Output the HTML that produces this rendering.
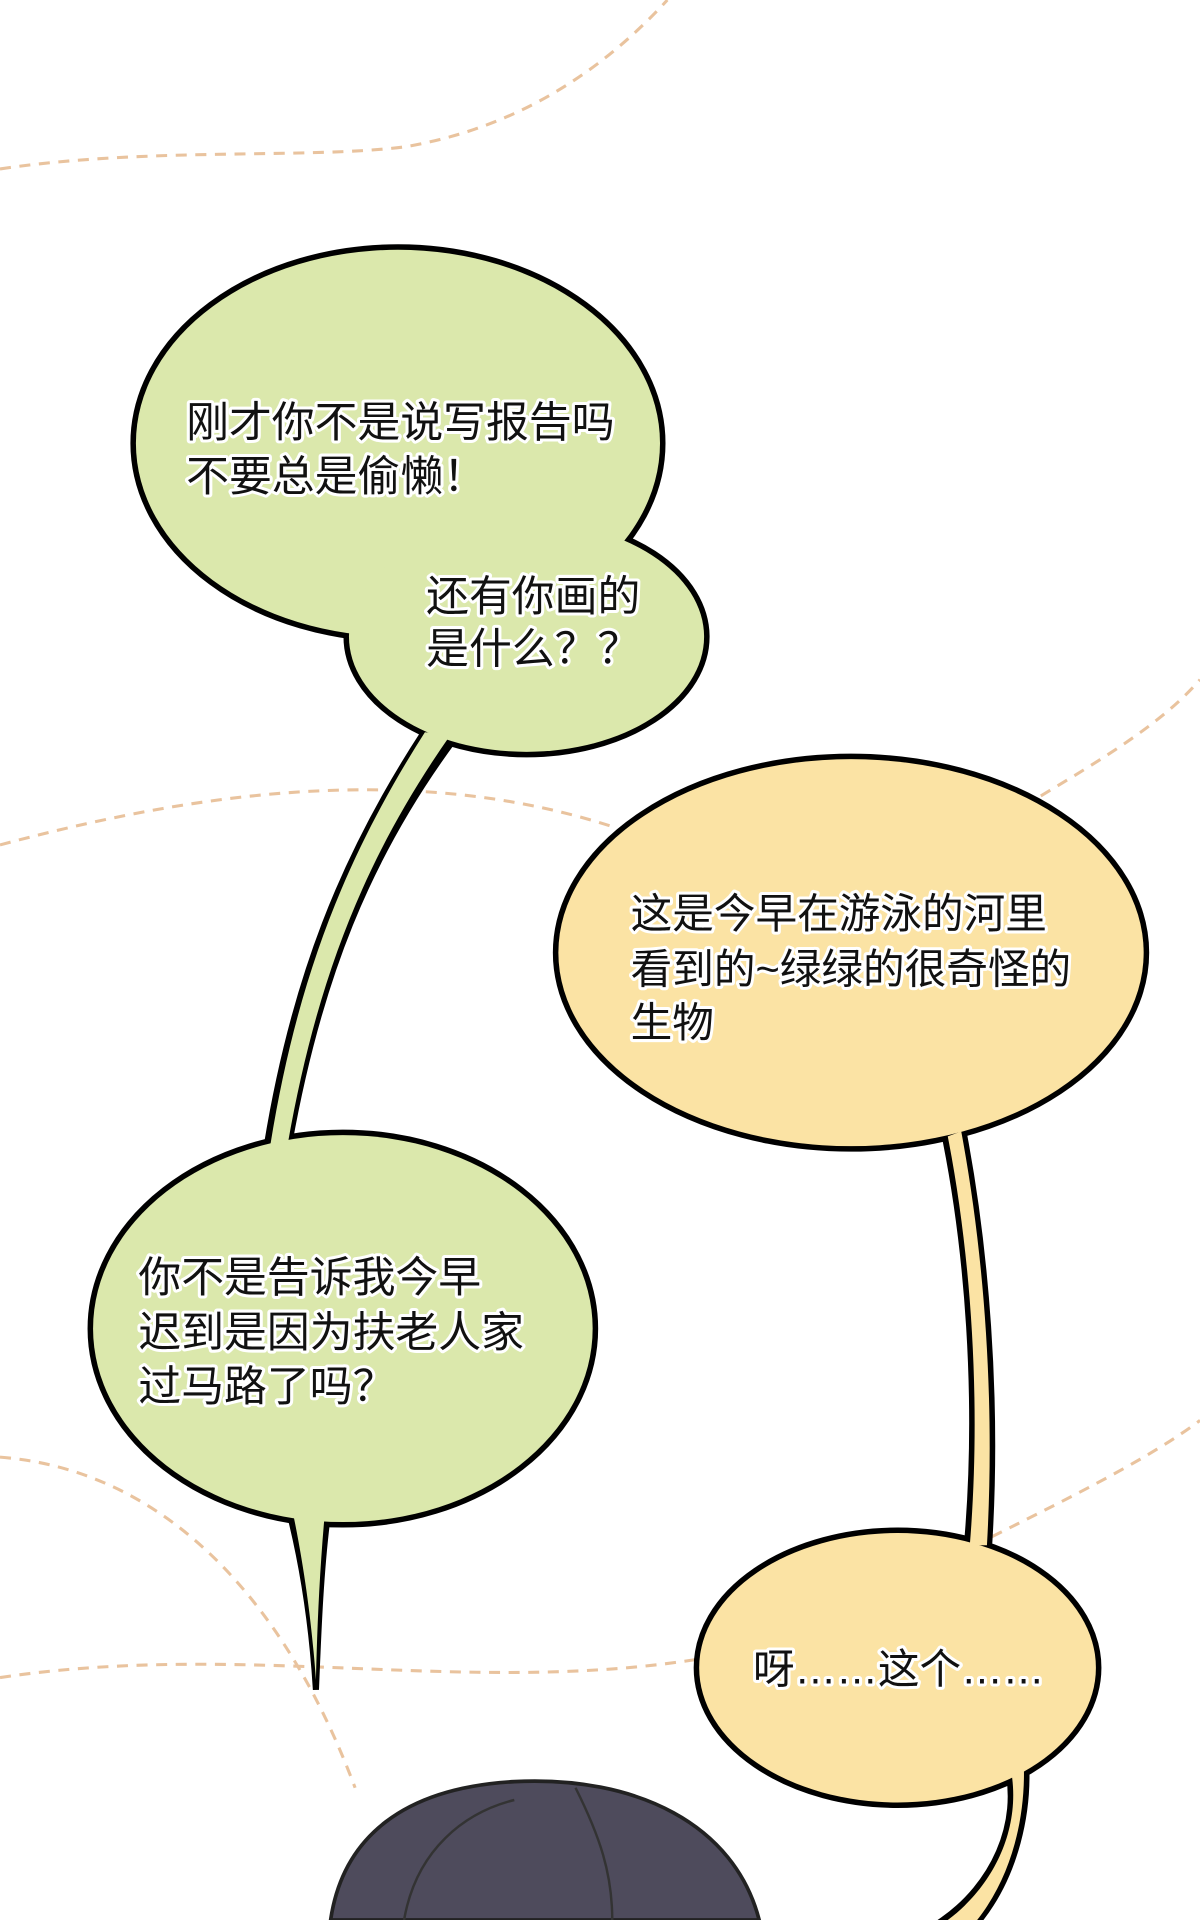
<!DOCTYPE html>
<html><head><meta charset="utf-8"><style>
html,body{margin:0;padding:0;background:#fff;}
svg{display:block;}
text{font-family:"Liberation Sans","Noto Sans CJK SC",sans-serif;font-size:35px;fill:#111;stroke:#fff;stroke-width:5px;paint-order:stroke;stroke-linejoin:round;}
</style></head><body>
<svg width="1200" height="1920" viewBox="0 0 980 1568" xmlns="http://www.w3.org/2000/svg">
<rect width="980" height="1568" fill="#fff"/>
<g fill="none" stroke="#e9c39e" stroke-width="2.5" stroke-dasharray="9 7">
<path d="M0 138 C120 120 250 130 330 120 C420 105 490 60 545 0"/>
<path d="M0 690 C150 650 330 620 500 675"/>
<path d="M850 650 C900 620 950 590 980 555"/>
<path d="M0 1190 C130 1200 230 1300 290 1460"/>
<path d="M0 1370 C200 1340 380 1385 570 1355"/>
<path d="M810 1255 C880 1220 940 1190 980 1160"/>
</g>
<g fill="#000" stroke="#000" stroke-width="5">
<ellipse cx="325" cy="362" rx="216" ry="160"/>
<ellipse cx="430" cy="520" rx="147" ry="96"/>
<ellipse cx="280" cy="1085" rx="206" ry="160"/>
<path d="M345 600 C280 700 240 800 218 935 L236 935 C260 800 300 700 370 605 Z"/>
<path d="M235 1230 C248 1280 255 1330 258 1380 C260 1330 262 1280 268 1235 Z"/>
<ellipse cx="695" cy="778" rx="241" ry="160"/>
<ellipse cx="733" cy="1362" rx="164" ry="112"/>
<path d="M772 930 C790 1020 800 1140 790 1258 L808 1258 C815 1140 805 1020 787 925 Z"/>
<path d="M822 1440 C835 1490 810 1540 770 1568 L800 1568 C830 1530 840 1480 838 1440 Z"/>
</g>
<g fill="#dbe8ac">
<ellipse cx="325" cy="362" rx="214" ry="158"/>
<ellipse cx="430" cy="520" rx="145" ry="94"/>
<ellipse cx="280" cy="1085" rx="204" ry="158"/>
<path d="M347 598 C282 700 242 800 220 940 L234 940 C258 800 298 700 368 600 Z"/>
<path d="M237 1225 C249 1280 255 1330 258 1372 C259 1330 261 1280 266 1228 Z"/>
</g>
<g fill="#fbe3a4">
<ellipse cx="695" cy="778" rx="239" ry="158"/>
<ellipse cx="733" cy="1362" rx="162" ry="110"/>
<path d="M774 928 C792 1020 802 1140 792 1262 L806 1262 C813 1140 803 1020 785 924 Z"/>
<path d="M824 1438 C837 1490 812 1540 774 1568 L798 1568 C828 1530 838 1480 836 1438 Z"/>
</g>
<path d="M270 1568 C280 1500 330 1460 420 1455 C520 1450 600 1490 620 1568 Z" fill="#4e4b5c" stroke="#222" stroke-width="3"/>
<path d="M330 1568 C340 1510 380 1480 420 1470 M470 1460 C490 1500 500 1530 500 1568" fill="none" stroke="#333" stroke-width="2"/>
<text x="152" y="357">刚才你不是说写报告吗</text>
<text x="152" y="401">不要总是偷懒！</text>
<text x="348" y="499">还有你画的</text>
<text x="348" y="542">是什么？？</text>
<text x="515" y="758" style="font-size:34px">这是今早在游泳的河里</text>
<text x="515" y="803" style="font-size:34px">看到的~绿绿的很奇怪的</text>
<text x="515" y="847" style="font-size:34px">生物</text>
<text x="113" y="1055">你不是告诉我今早</text>
<text x="113" y="1100">迟到是因为扶老人家</text>
<text x="113" y="1144">过马路了吗？</text>
<text x="615" y="1375" style="font-size:34px">呀……这个……</text>
</svg>
</body></html>
